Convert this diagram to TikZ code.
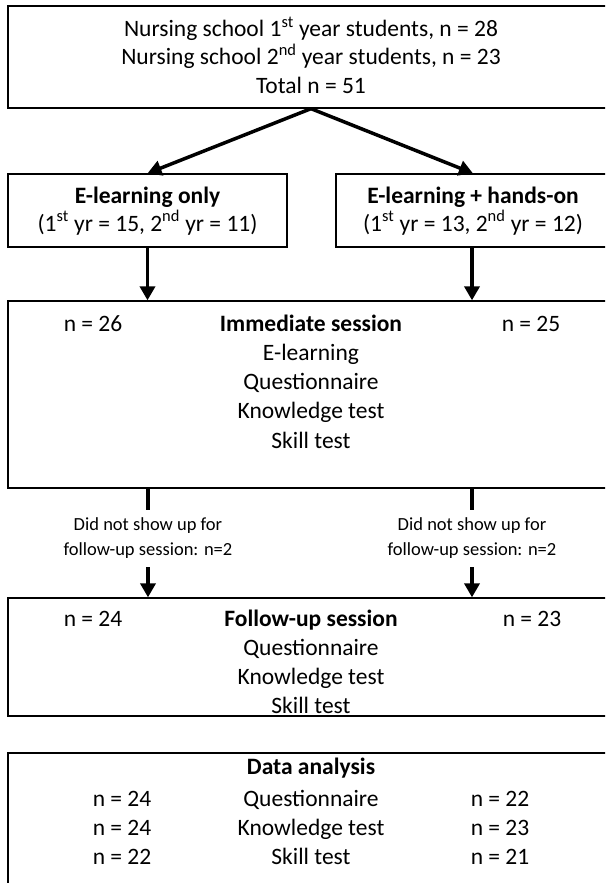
\documentclass[tikz,border=0pt]{standalone}
\usepackage{fontspec}
\setmainfont{Carlito}
\usetikzlibrary{arrows.meta, positioning}

\tikzset{
  box/.style={draw, line width=1.3pt, minimum width=606pt, inner sep=0pt},
  txt/.style={inner sep=0pt, text height=17pt, text depth=5pt, font=\fontsize{23.5}{28}\selectfont},
  bold/.style={txt, font=\fontsize{23.5}{28}\selectfont\bfseries},
  note/.style={inner sep=0pt, minimum height=57pt, align=center, font=\fontsize{18.5}{25}\selectfont},
  arr/.style={line width=3.5pt, -{Triangle[length=14pt, width=15pt]}},
  stub/.style={line width=3.5pt},
}

\begin{document}
\begin{tikzpicture}[x=1pt, y=-1pt]
  \clip (0,0) rectangle (605,883);
  % Kaesten (rechts und unten abgeschnitten)
  \node[box, minimum height=102pt] (top) at (311,57) {};
  \node[box, minimum width=279pt, minimum height=73pt] (lbox) at (147.5,210.5) {};
  \node[box, minimum width=274pt, minimum height=73pt] (rbox) at (473,210.5) {};
  \node[box, minimum height=187pt] (imm) at (311,394.5) {};
  \node[box, minimum height=118pt] (fol) at (311,657) {};
  \node[box, minimum height=150pt] (dat) at (311,828) {};

  % Stichprobe
  \node[txt] (tot1) at (311,31) {Nursing school 1\textsuperscript{st} year students, n = 28};
  \node[txt] (tot2) at (311,59) {Nursing school 2\textsuperscript{nd} year students, n = 23};
  \node[txt] (tot3) at (311,87) {Total n = 51};

  % Gruppen
  \node[bold] (elonly) at (lbox |- 0,197) {E-learning only};
  \node[txt]  (elyrs)  at (lbox |- 0,225) {(1\textsuperscript{st} yr = 15, 2\textsuperscript{nd} yr = 11)};
  \node[bold] (elhand) at (rbox |- 0,197) {E-learning + hands-on};
  \node[txt]  (hdyrs)  at (rbox |- 0,225) {(1\textsuperscript{st} yr = 13, 2\textsuperscript{nd} yr = 12)};

  % Sofort-Sitzung
  \node[txt]  (immL) at (93,325)  {n = 26};
  \node[bold] (immT) at (311,325) {Immediate session};
  \node[txt]  (immR) at (531,325) {n = 25};
  \foreach \s [count=\i] in {E-learning, Questionnaire, Knowledge test, Skill test}
    \node[txt] (imm\i) at (311,325+29.3*\i) {\s};

  % Ausfaelle
  \node[note] (lnote) at (148,538.5) {Did not show up for\\follow-up session: n=2};
  \node[note] (rnote) at (472,538.5) {Did not show up for\\follow-up session: n=2};

  % Follow-up-Sitzung
  \node[txt]  (folL) at (93,620)  {n = 24};
  \node[bold] (folT) at (311,620) {Follow-up session};
  \node[txt]  (folR) at (532,620) {n = 23};
  \foreach \s [count=\i] in {Questionnaire, Knowledge test, Skill test}
    \node[txt] (fol\i) at (311,620+29.3*\i) {\s};

  % Auswertung
  \node[bold] (datT) at (311,768) {Data analysis};
  \foreach \l/\s/\r [count=\i] in {24/Questionnaire/22, 24/Knowledge test/23, 22/Skill test/21} {
    \node[txt] (datL\i) at (122,771+29*\i) {n = \l};
    \node[txt] (dat\i)  at (311,771+29*\i) {\s};
    \node[txt] (datR\i) at (500,771+29*\i) {n = \r};
  }

  % Pfeile
  \draw[arr] (top.south) -- (lbox.north);
  \draw[arr] (top.south) -- (rbox.north);
  \draw[arr] (lbox.south) -- (lbox.south |- imm.north);
  \draw[arr] (rbox.south -| rnote) -- (rnote |- imm.north);
  \draw[stub] (imm.south -| lnote) -- (lnote.north);
  \draw[stub] (imm.south -| rnote) -- (rnote.north);
  \draw[arr] (lnote.south) -- (lnote |- fol.north);
  \draw[arr] (rnote.south) -- (rnote |- fol.north);
\end{tikzpicture}
\end{document}
